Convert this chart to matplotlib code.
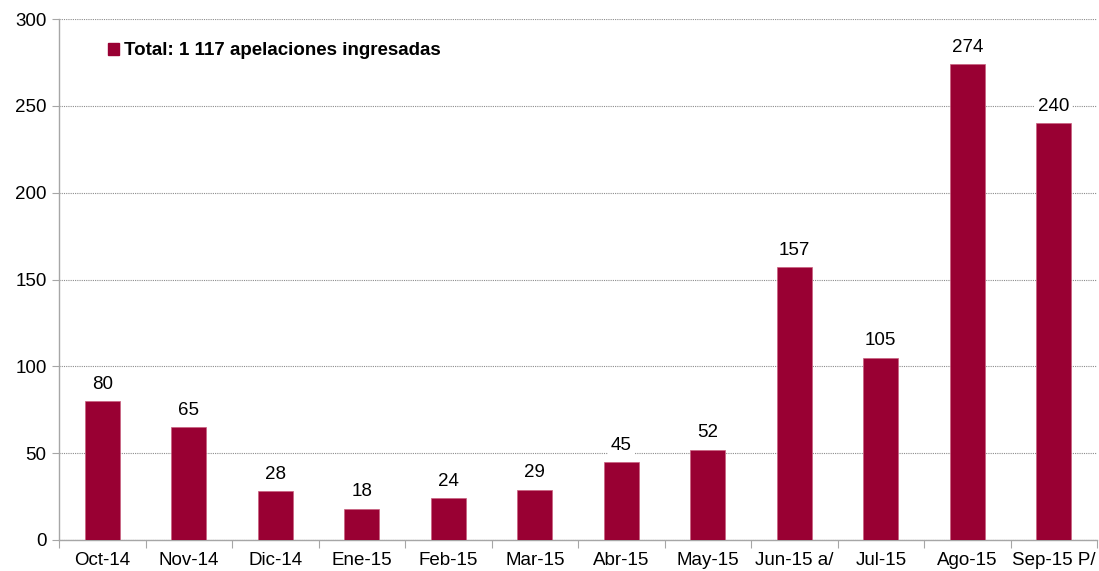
import matplotlib.pyplot as plt
from matplotlib.patches import Patch

plt.rcParams['font.family'] = ['Liberation Sans', 'DejaVu Sans']

months = ['Oct-14', 'Nov-14', 'Dic-14', 'Ene-15', 'Feb-15', 'Mar-15',
          'Abr-15', 'May-15', 'Jun-15 a/', 'Jul-15', 'Ago-15', 'Sep-15 P/']
apelaciones = [80, 65, 28, 18, 24, 29, 45, 52, 157, 105, 274, 240]
legend_label = 'Total: 1 117 apelaciones ingresadas'

bar_color = '#990033'
axis_gray = '#a6a6a6'
fs = 13.5

fig = plt.figure(figsize=(10.99, 5.71), dpi=100)
ax = fig.add_axes([0.0537, 0.0543, 0.9445, 0.9124])

x = range(len(months))
bars = ax.bar(x, apelaciones, width=0.4, color=bar_color,
              edgecolor='#c9607f', linewidth=0.5, zorder=3)

for xi, v in zip(x, apelaciones):
    ax.annotate(str(v), (xi, v), xytext=(0, 6), textcoords='offset points',
                ha='center', va='bottom', fontsize=fs, zorder=4,
                bbox=dict(boxstyle='square,pad=0.15', fc='white', ec='none'))

ax.set_xlim(-0.5, len(months) - 0.5)
ax.set_ylim(0, 300)
ax.set_yticks(range(0, 301, 50))
ax.set_xticks([i - 0.5 for i in range(len(months) + 1)], minor=False)
ax.set_xticklabels([])
ax.set_xticks(list(x), minor=True)
ax.set_xticklabels(months, minor=True)
ax.tick_params(axis='x', which='major', length=6, color=axis_gray, direction='out')
ax.tick_params(axis='x', which='minor', length=0, labelsize=fs, pad=9)
ax.tick_params(axis='y', length=5, color=axis_gray, labelsize=fs, pad=4)

ax.grid(axis='y', color='#8c8c8c', linestyle=(0, (1, 1)), linewidth=0.8, zorder=0)
for s in ['top', 'right']:
    ax.spines[s].set_visible(False)
for s in ['left', 'bottom']:
    ax.spines[s].set_color(axis_gray)
    ax.spines[s].set_linewidth(1)

ax.legend(handles=[Patch(color=bar_color, label=legend_label)],
          loc='center left', bbox_to_anchor=(0.047, 0.939), frameon=False,
          handlelength=0.6, handleheight=0.6, handletextpad=0.25, borderpad=0,
          borderaxespad=0, prop={'weight': 'bold', 'size': fs})

fig.savefig('out.png', dpi=100)
